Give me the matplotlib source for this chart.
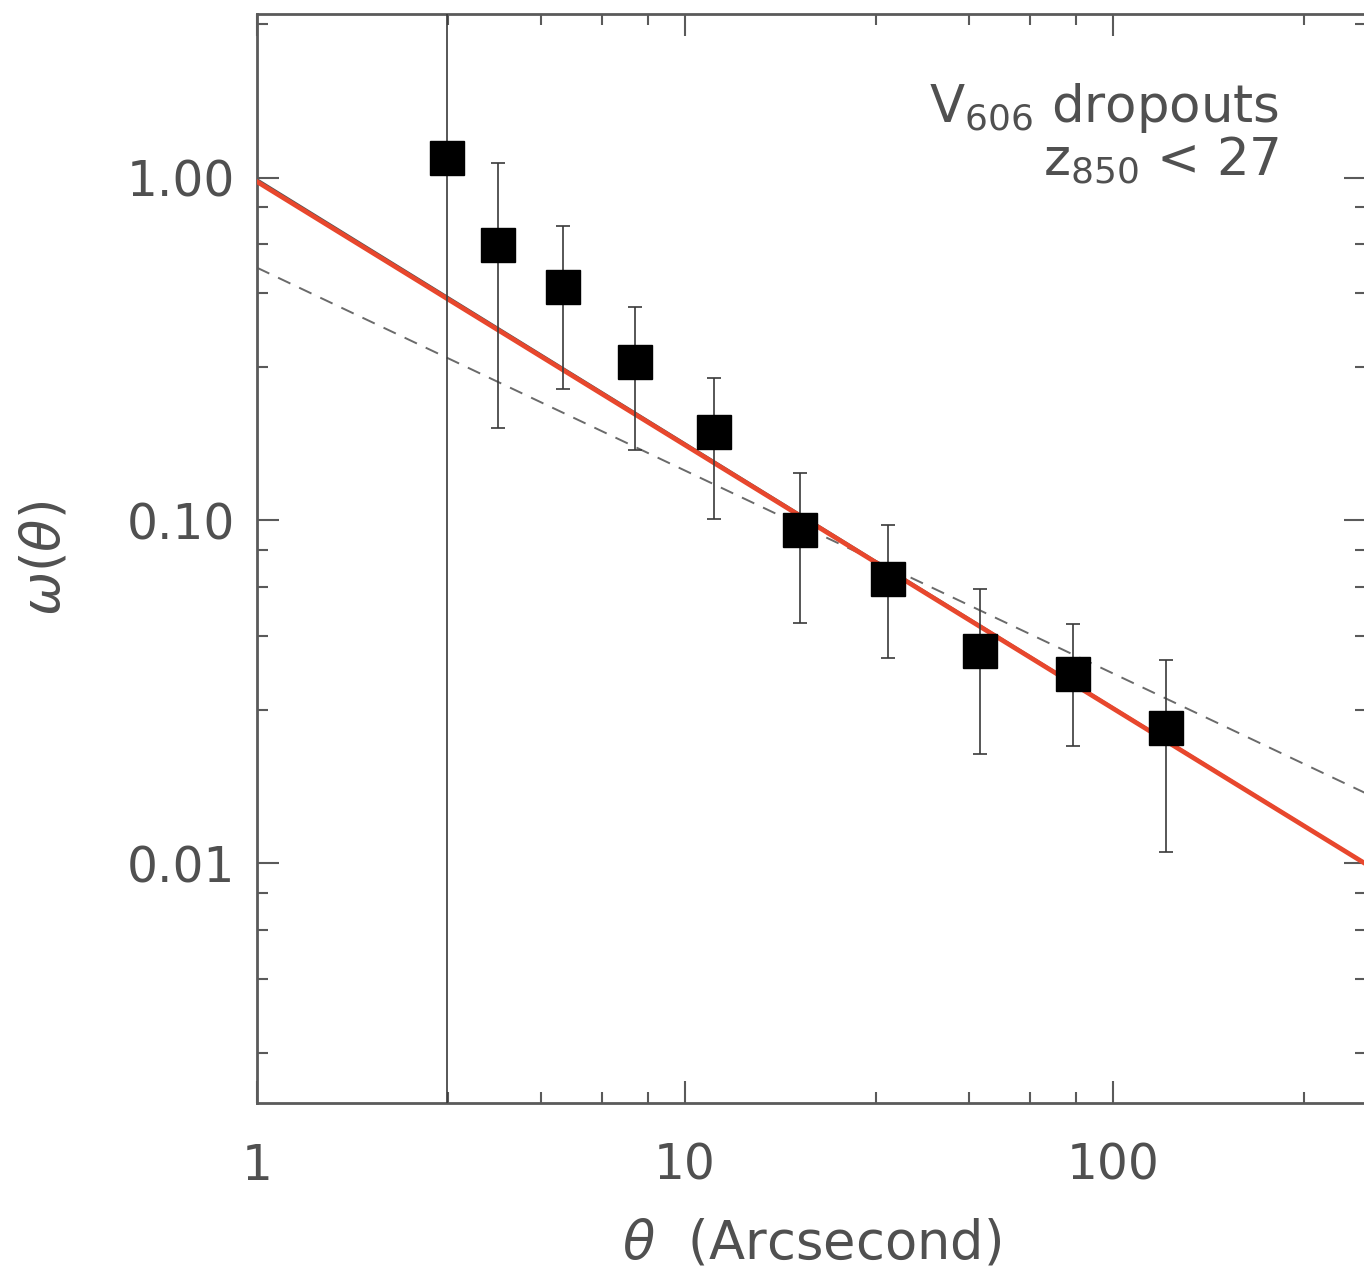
import numpy as np
import matplotlib
matplotlib.use("Agg")
import matplotlib.pyplot as plt
from matplotlib.ticker import FixedLocator, NullFormatter

plt.rcParams['font.family'] = ['DejaVu Sans']
plt.rcParams['mathtext.default'] = 'regular'

# ---- data ----
theta = [2.78, 3.66, 5.19, 7.64, 11.7, 18.6, 29.8, 48.9, 80.7, 133.0]
omega = [1.14, 0.637, 0.48, 0.290, 0.181, 0.0935, 0.0677, 0.0417, 0.0357, 0.0248]
omega_hi = [10.0, 1.106, 0.724, 0.420, 0.260, 0.138, 0.0967, 0.0633, 0.050, 0.0392]
omega_lo = [1e-5, 0.186, 0.241, 0.160, 0.101, 0.0503, 0.0398, 0.0208, 0.022, 0.0108]

line_x = [1.0, 390.0]
red_fit = [0.973, 0.00995]
gray_fit = [0.99, 0.0100]
dash_fit = [0.546, 0.0160]

x_major = [1, 10, 100]
x_major_labels = ["1", "10", "100"]
y_major = [0.01, 0.1, 1.0]
y_major_labels = ["0.01", "0.10", "1.00"]
minor_mant = [2.8, 4.6, 6.4, 8.2]

W, H = 1364, 1268
fig = plt.figure(figsize=(W / 100, H / 100), dpi=100)
ax = fig.add_axes([257 / W, (H - 1103) / H, (1366 - 257) / W, (1103 - 14) / H])
ax.set_xscale('log')
ax.set_yscale('log')
ax.set_xlim(1, 390)
ax.set_ylim(0.002, 3.0)

tcol = '#505050'
scol = '#5a5a5a'

# fits
ax.plot(line_x, dash_fit, color='#6a6a6a', lw=1.4, ls=(0, (7, 5)), zorder=2)
ax.plot(line_x, gray_fit, color='#555555', lw=1.4, zorder=2)
ax.plot(line_x, red_fit, color='#e8472d', lw=3.4, zorder=3)

# data
th = np.array(theta)
om = np.array(omega)
yerr = np.vstack([om - np.array(omega_lo), np.array(omega_hi) - om])
ax.errorbar(th, om, yerr=yerr, fmt='none', ecolor='#3a3a3a', elinewidth=1.2,
            capsize=5, capthick=1.2, zorder=4)
ax.plot(th, om, 's', color='black', ms=24, zorder=5)

# ticks
minors_x = [m * 10 ** e for e in range(0, 3) for m in minor_mant]
minors_y = [m * 10 ** e for e in range(-3, 1) for m in minor_mant]
ax.xaxis.set_major_locator(FixedLocator(x_major))
ax.xaxis.set_minor_locator(FixedLocator(minors_x))
ax.yaxis.set_major_locator(FixedLocator(y_major))
ax.yaxis.set_minor_locator(FixedLocator(minors_y))
ax.set_xticklabels(x_major_labels)
ax.set_yticklabels(y_major_labels)
ax.xaxis.set_minor_formatter(NullFormatter())
ax.yaxis.set_minor_formatter(NullFormatter())
ax.tick_params(which='both', direction='in', top=True, right=True,
               color=scol, width=1.5, labelcolor=tcol, labelsize=35)
ax.tick_params(which='major', length=16)
ax.tick_params(which='minor', length=8)
ax.tick_params(axis='x', which='major', pad=28)
ax.tick_params(axis='y', which='major', pad=16)
for s in ax.spines.values():
    s.set_color(scol)
    s.set_linewidth(2.0)

ax.set_xlabel(r'$\mathit{\theta}$  (Arcsecond)', fontsize=38, color=tcol, labelpad=20)
ax.set_ylabel(r'$\mathit{\omega}$($\mathit{\theta}$)', fontsize=38, color=tcol, labelpad=40)

ax.text(0.922, 0.901, r'V$_{606}$ dropouts', transform=ax.transAxes, ha='right',
        va='baseline', fontsize=37, color=tcol)
ax.text(0.922, 0.852, r'z$_{850}$ < 27', transform=ax.transAxes, ha='right',
        va='baseline', fontsize=37, color=tcol)

fig.savefig('out.png', dpi=100)
